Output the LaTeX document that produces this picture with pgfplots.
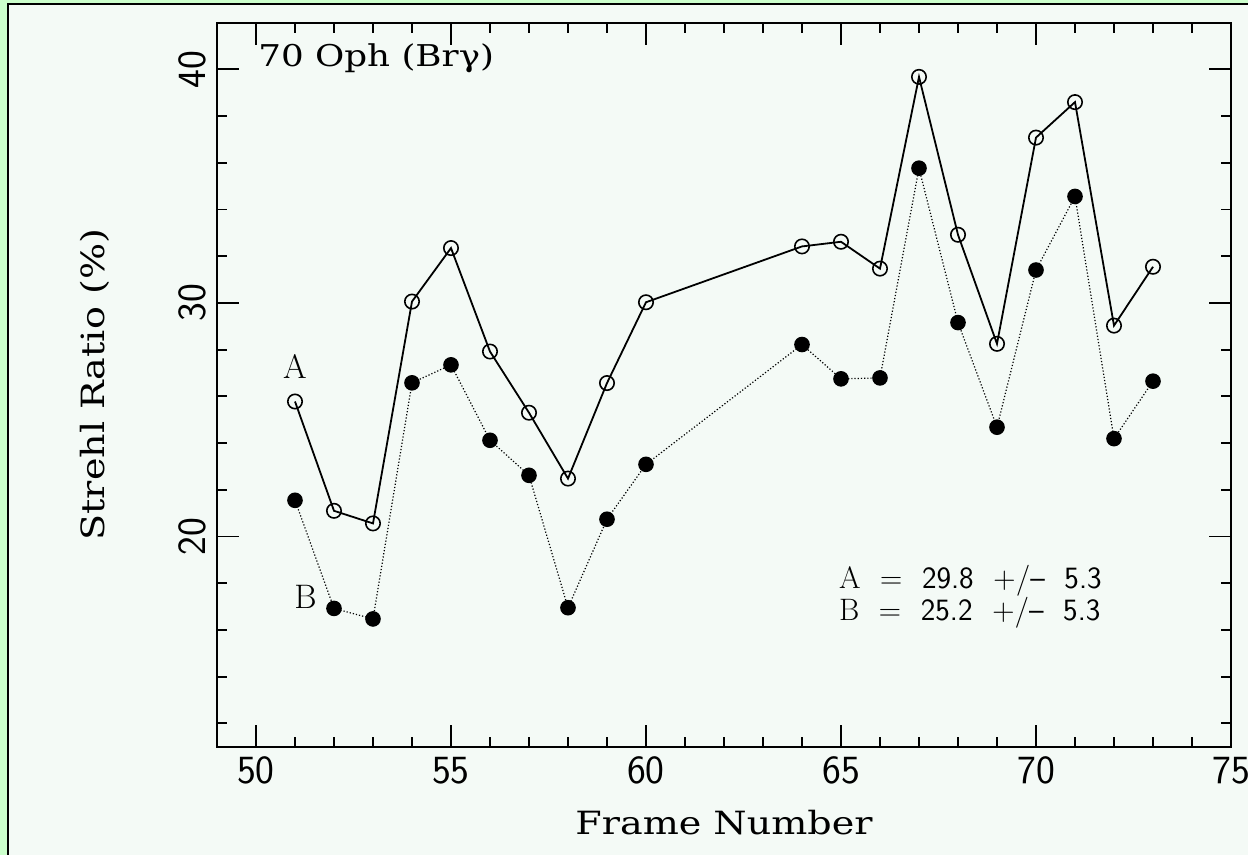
\documentclass[border=0pt]{standalone}
\usepackage{fontspec}
\usepackage{pgfplots}
\pgfplotsset{compat=1.18}
\newfontfamily\labfont[FakeStretch=1.19]{DejaVu Serif}
\definecolor{bgin}{HTML}{F4FAF6}
\definecolor{bgout}{HTML}{CCFFCC}
\begin{document}
\begin{tikzpicture}
% background (1 px = 0.5pt); axis box lower-left at origin
\fill[bgout] (-108.5pt,-54.15pt) rectangle (515.5pt,373.35pt);
\fill[bgin] (-104.5pt,-54.15pt) rectangle (515.5pt,371.2pt);
\draw[black,line width=0.9pt] (-104.5pt,-54.15pt) -- (-104.5pt,371.2pt) -- (515.5pt,371.2pt);
\begin{axis}[
  scale only axis,
  width=507pt, height=362pt,
  xmin=49, xmax=75, ymin=11, ymax=42,
  xtick={50,55,60,65,70,75},
  minor xtick={49,51,52,53,54,56,57,58,59,61,62,63,64,66,67,68,69,71,72,73,74},
  ytick={20,30,40},
  minor ytick={12,14,16,18,22,24,26,28,32,34,36,38},
  xtick pos=both, ytick pos=both,
  tick align=inside,
  major tick length=11pt, minor tick length=5pt,
  every tick/.style={black, line width=0.9pt},
  axis line style={line width=1pt},
  /pgf/number format/assume math mode=true,
  ticklabel style={font=\sffamily\fontsize{20}{22}\selectfont},
  yticklabel style={rotate=90, anchor=south, inner sep=5pt},
  xticklabel style={inner sep=5pt},
  xlabel={Frame Number},
  ylabel={Strehl Ratio (\%)},
  label style={font=\labfont\fontsize{16}{18}\selectfont},
  xlabel style={at={(axis description cs:0.5,-0.1054)}, anchor=center},
  ylabel style={at={(axis description cs:-0.1203,0.5)}, anchor=center, rotate=0},
  clip=false,
]
\addplot[black, line width=0.9pt, mark=o, mark size=3.6pt, mark options={solid, line width=0.8pt}] coordinates {
(51,25.78) (52,21.10) (53,20.56) (54,30.06) (55,32.35) (56,27.92) (57,25.30) (58,22.48) (59,26.57) (60,30.03)
(64,32.42) (65,32.62) (66,31.47) (67,39.68) (68,32.92) (69,28.25) (70,37.08) (71,38.60) (72,29.03) (73,31.55)
};
\addplot[black, line width=0.6pt, densely dotted, mark=*, mark size=3.6pt, mark options={solid, fill=black}] coordinates {
(51,21.55) (52,16.92) (53,16.47) (54,26.58) (55,27.35) (56,24.12) (57,22.62) (58,16.95) (59,20.74) (60,23.09)
(64,28.22) (65,26.75) (66,26.79) (67,35.77) (68,29.16) (69,24.68) (70,31.41) (71,34.56) (72,24.19) (73,26.65)
};
\node[anchor=west, font=\labfont\fontsize{15}{17}\selectfont, inner sep=0pt] at (axis cs:50.05,40.48) {70 Oph (Brγ)};
\node[font=\fontsize{17}{19}\selectfont] at (axis cs:51.0,27.3) {A};
\node[font=\fontsize{17}{19}\selectfont] at (axis cs:51.27,17.4) {B};
\node[anchor=west, font=\sffamily\fontsize{15.5}{17}\selectfont, inner sep=0pt] at (axis cs:64.94,18.09) {{\rmfamily A}\ \ =\ \ 29.8\ \ +/--\ \ 5.3};
\node[anchor=west, font=\sffamily\fontsize{15.5}{17}\selectfont, inner sep=0pt] at (axis cs:64.94,16.72) {{\rmfamily B}\ \ =\ \ 25.2\ \ +/--\ \ 5.3};
\end{axis}
\pgfresetboundingbox
\path[use as bounding box] (-108.5pt,-54.15pt) rectangle (515.5pt,373.35pt);
\end{tikzpicture}
\end{document}
